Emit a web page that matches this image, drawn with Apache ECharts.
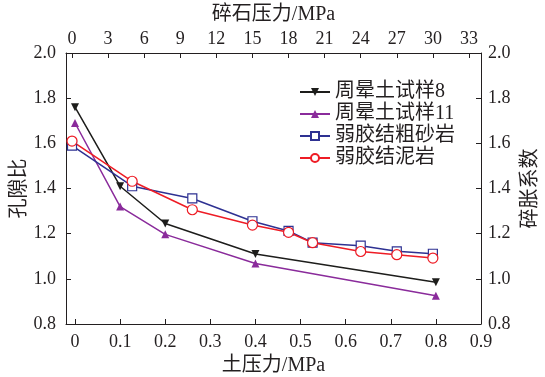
<!DOCTYPE html>
<html>
<head>
<meta charset="utf-8">
<script src="https://cdn.jsdelivr.net/npm/echarts@6/dist/echarts.min.js"></script>
<style>html,body{margin:0;padding:0;background:#fff}#c{width:545px;height:377px}</style>
</head>
<body>
<div id="c"></div>
<script>
// ---- data ----
const seriesNames = ['周晕土试样8', '周晕土试样11', '弱胶结粗砂岩', '弱胶结泥岩'];
const soilPressure = [0, 0.1, 0.2, 0.4, 0.8];            // 土压力/MPa
const voidRatio8 = [1.76, 1.41, 1.245, 1.11, 0.985];     // 孔隙比
const voidRatio11 = [1.69, 1.32, 1.197, 1.068, 0.925];
const rockPressure = [0, 5, 10, 15, 18, 20, 24, 27, 30]; // 碎石压力/MPa
const sandstone = [1.59, 1.41, 1.356, 1.255, 1.212, 1.16, 1.147, 1.122, 1.111]; // 碎胀系数
const mudstone = [1.61, 1.432, 1.306, 1.238, 1.206, 1.16, 1.121, 1.107, 1.092];
const bottomTicks = [0, 0.1, 0.2, 0.3, 0.4, 0.5, 0.6, 0.7, 0.8, 0.9];
const topTicks = [0, 3, 6, 9, 12, 15, 18, 21, 24, 27, 30, 33];

const pair = (xs, ys) => xs.map((x, i) => [x, ys[i]]);
const FONT = "'Liberation Serif', 'DejaVu Serif', 'Noto Sans CJK SC', serif";
const TXT = '#231f20';
const axisLine = { show: true, onZero: false, lineStyle: { color: '#231f20', width: 1 } };
const tick = (vals) => ({ show: true, inside: true, length: 5, lineStyle: { color: '#231f20' }, customValues: vals });
const nameStyle = { fontFamily: FONT, fontSize: 20, color: TXT };

const chart = echarts.init(document.getElementById('c'), null, { renderer: 'canvas' });
chart.setOption({
  animation: false,
  backgroundColor: '#fff',
  textStyle: { fontFamily: FONT },
  grid: { left: 66, right: 64, top: 53, bottom: 53, containLabel: false, outerBoundsMode: 'none' },
  legend: {
    orient: 'vertical', left: 299, top: 82, padding: 0, itemWidth: 30, itemHeight: 10, itemGap: 2,
    textStyle: { fontFamily: FONT, fontSize: 20, color: TXT, lineHeight: 20, padding: [0, 0, 0, 0] },
    data: seriesNames
  },
  xAxis: [
    {
      type: 'value', position: 'bottom', min: -0.02, max: 0.9,
      name: '土压力/MPa', nameLocation: 'middle', nameGap: 32, nameMoveOverlap: false, nameTextStyle: nameStyle,
      axisLine: axisLine, axisTick: tick(bottomTicks), splitLine: { show: false },
      axisLabel: { customValues: bottomTicks, fontFamily: FONT, fontSize: 18, color: TXT, margin: 9, formatter: v => String(+v.toFixed(1)) }
    },
    {
      type: 'value', position: 'top', min: -0.5, max: 34,
      name: '碎石压力/MPa', nameLocation: 'middle', nameGap: 28, nameMoveOverlap: false, nameTextStyle: nameStyle,
      axisLine: axisLine, axisTick: tick(topTicks), splitLine: { show: false },
      axisLabel: { customValues: topTicks, fontFamily: FONT, fontSize: 18, color: TXT, margin: 5, formatter: v => String(Math.round(v)) }
    }
  ],
  yAxis: [
    {
      type: 'value', position: 'left', min: 0.8, max: 2.0, interval: 0.2,
      name: '孔隙比', nameLocation: 'middle', nameGap: 36, nameMoveOverlap: false, nameTextStyle: nameStyle,
      axisLine: axisLine, axisTick: { show: true, inside: true, length: 5, lineStyle: { color: '#231f20' } }, splitLine: { show: false },
      axisLabel: { fontFamily: FONT, fontSize: 18, color: TXT, margin: 10, formatter: v => v.toFixed(1) }
    },
    {
      type: 'value', position: 'right', min: 0.8, max: 2.0, interval: 0.2,
      name: '碎胀系数', nameLocation: 'middle', nameGap: 40, nameMoveOverlap: false, nameTextStyle: nameStyle,
      axisLine: axisLine, axisTick: { show: true, inside: true, length: 5, lineStyle: { color: '#231f20' } }, splitLine: { show: false },
      axisLabel: { fontFamily: FONT, fontSize: 18, color: TXT, margin: 7, formatter: v => v.toFixed(1) }
    }
  ],
  series: [
    {
      name: seriesNames[0], type: 'line', xAxisIndex: 0, yAxisIndex: 0,
      data: pair(soilPressure, voidRatio8),
      symbol: 'triangle', symbolRotate: 180, symbolSize: 8, color: '#1d1d1b',
      lineStyle: { width: 1.5, color: '#1d1d1b' }, itemStyle: { color: '#1d1d1b' }
    },
    {
      name: seriesNames[1], type: 'line', xAxisIndex: 0, yAxisIndex: 0,
      data: pair(soilPressure, voidRatio11),
      symbol: 'triangle', symbolSize: 8, color: '#8a2b9b',
      lineStyle: { width: 1.5, color: '#8a2b9b' }, itemStyle: { color: '#8a2b9b' }
    },
    {
      name: seriesNames[2], type: 'line', xAxisIndex: 1, yAxisIndex: 1,
      data: pair(rockPressure, sandstone),
      symbol: 'rect', symbolSize: 9, color: '#2e3192',
      lineStyle: { width: 1.5, color: '#2e3192' }, itemStyle: { color: '#fff', borderColor: '#2e3192', borderWidth: 1.2 }
    },
    {
      name: seriesNames[3], type: 'line', xAxisIndex: 1, yAxisIndex: 1,
      data: pair(rockPressure, mudstone),
      symbol: 'circle', symbolSize: 10, color: '#ee1c25',
      lineStyle: { width: 1.5, color: '#ee1c25' }, itemStyle: { color: '#fff', borderColor: '#ee1c25', borderWidth: 1.2 }
    }
  ]
});
</script>
</body>
</html>
